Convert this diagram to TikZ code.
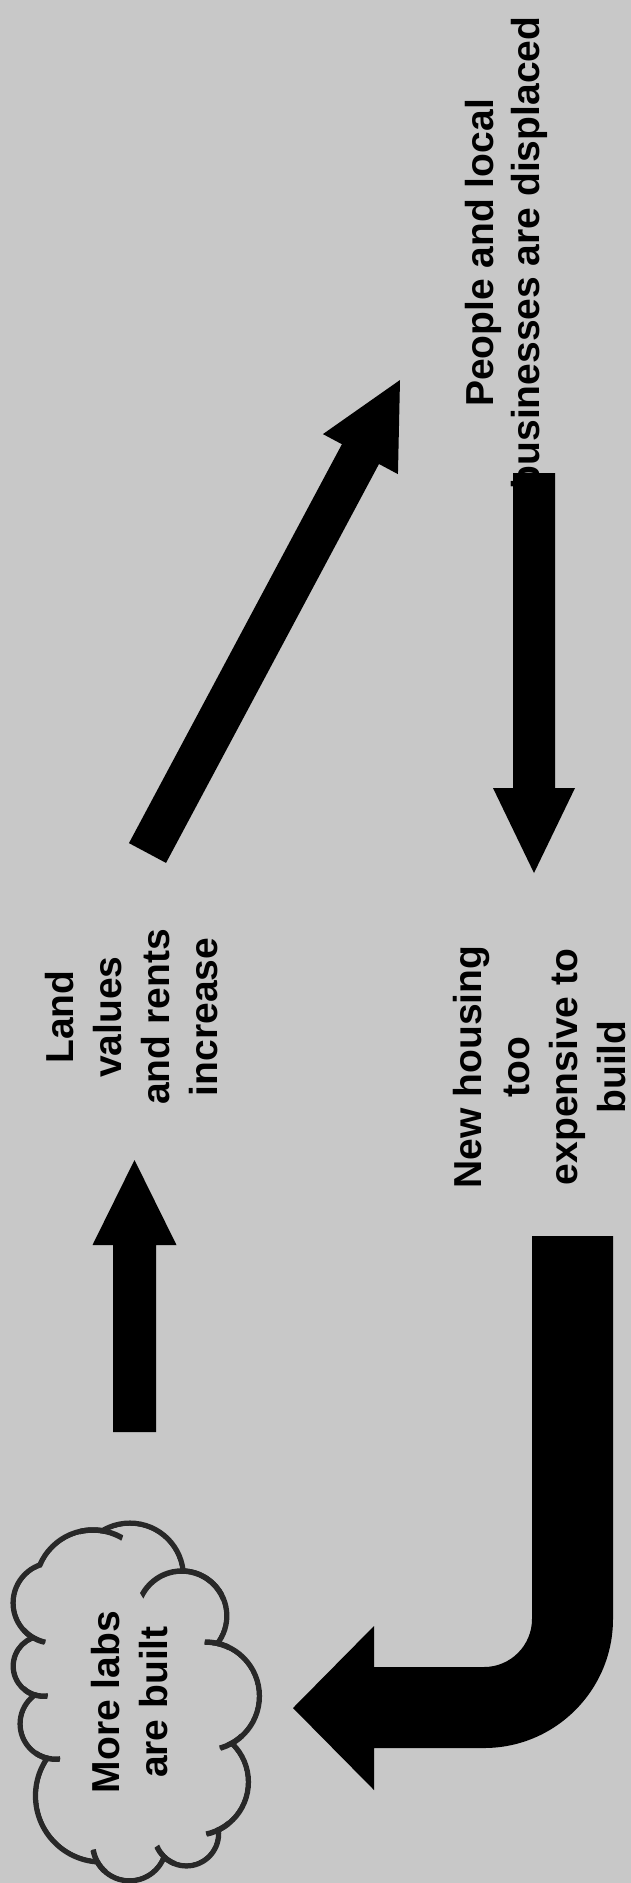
\documentclass[tikz,border=0pt]{standalone}
\usepackage{fontspec}
\setmainfont{Liberation Sans}
\usetikzlibrary{calc}
\definecolor{bg}{RGB}{200,200,200}
\definecolor{cloudcol}{RGB}{40,40,40}
\newcommand{\blockarrow}[5]{%
  \coordinate (ba-h) at ($(#2)!#5!(#1)$);
  \fill[arrowfill] ($(#1)!#3!90:(#2)$) -- ($(ba-h)!#3!90:(#2)$) -- ($(ba-h)!#4!90:(#2)$) -- (#2)
    -- ($(ba-h)!#4!-90:(#2)$) -- ($(ba-h)!#3!-90:(#2)$) -- ($(#1)!#3!-90:(#2)$) -- cycle;
}
\newcommand{\cloudhook}[4]{%
  \begin{scope}
    \clip (#1) circle[radius=#2pt];
    \draw[cloudline] (#3) circle[radius=#4pt];
  \end{scope}
}
\def\cloudlobes{A/93.0/1587.7/57.7, B/129.9/1576.6/53.4, C/181.8/1615.9/44.9,
  D/205.2/1696.1/54.1, E/195.0/1782.0/53.3, F/186.4/1833.7/32.1, G/129.5/1843.9/36.8,
  H/101.7/1795.8/66.1, I/55.6/1723.8/35.4, J/43.4/1666.1/30.1, K/53.4/1602.9/40.2}
\begin{document}
\begin{tikzpicture}[x=1pt,y=-1pt,
  lbl/.style={font=\bfseries\fontsize{39}{47}\selectfont, align=center, rotate=90, inner sep=0pt},
  arrowfill/.style={fill=black},
  cloudline/.style={draw=cloudcol, line width=5.5pt}]
\fill[bg] (0,0) rectangle (631,1883);
\useasboundingbox (0,0) rectangle (631,1883);

% ---------- cloud ----------
\foreach \n/\x/\y/\r in \cloudlobes { \coordinate (c\n) at (\x,\y); }
\coordinate (jKA) at (40,1565);     \coordinate (jAB) at (101.7,1530.7);
\coordinate (jBC) at (182.7,1571);  \coordinate (jCD) at (217.3,1643.3);
\coordinate (jDE) at (231.7,1743.3);\coordinate (jEF) at (218.3,1830);
\coordinate (jFG) at (164,1856.7);  \coordinate (jGH) at (97.3,1861.7);
\coordinate (jHI) at (47.3,1758.3); \coordinate (jIJ) at (35,1695);
\coordinate (jJK) at (33.3,1637.7); \coordinate (cmid) at (130,1705);
\foreach \n/\x/\y/\r in \cloudlobes { \draw[cloudline] (c\n) circle[radius=\r pt]; }
\foreach \n/\x/\y/\r in \cloudlobes { \fill[bg] (c\n) circle[radius={\r pt-2.75pt}]; }
\fill[bg] ($(cmid)!0.94!(jKA)$) -- ($(cmid)!0.94!(jAB)$) -- ($(cmid)!0.94!(jBC)$)
  -- ($(cmid)!0.94!(jCD)$) -- ($(cmid)!0.94!(jDE)$) -- ($(cmid)!0.94!(jEF)$)
  -- ($(cmid)!0.94!(jFG)$) -- ($(cmid)!0.94!(jGH)$) -- ($(cmid)!0.94!(jHI)$)
  -- ($(cmid)!0.94!(jIJ)$) -- ($(cmid)!0.94!(jJK)$) -- cycle;
\cloudhook{jAB}{22}{cA}{57.7}
\cloudhook{jBC}{48}{cC}{44.9}
\cloudhook{jCD}{13}{cD}{54.1}
\cloudhook{jDE}{13}{cD}{54.1}
\cloudhook{jEF}{13}{cE}{53.3}
\cloudhook{jFG}{13}{cF}{32.1}
\cloudhook{jGH}{13}{cG}{36.8}
\cloudhook{jHI}{13}{cI}{35.4}
\cloudhook{jIJ}{13}{cJ}{30.1}
\cloudhook{jJK}{13}{cK}{40.2}

% ---------- texts ----------
\node[lbl, font=\bfseries\fontsize{39}{46}\selectfont] (people) at (506,253) {People and local\\businesses are displaced};
\node[lbl, font=\bfseries\fontsize{39}{48}\selectfont] (land) at (132,1017) {Land\\values\\and rents\\increase};
\node[lbl, font=\bfseries\fontsize{39}{48}\selectfont] (housing) at (540,1067) {New housing\\too\\expensive to\\build};
\node[lbl, font=\bfseries\fontsize{39}{48}\selectfont] (labs) at (130,1702) {More labs\\are built};

% ---------- arrows ----------
\coordinate (upS) at (134.5,1432); \coordinate (upE) at (134.5,1160);
\coordinate (diS) at (147.5,853);  \coordinate (diE) at (400,380);
\coordinate (dnS) at (534,473);    \coordinate (dnE) at (534,873);
\coordinate (jS) at (572.5,1236);  \coordinate (jE) at (293,1708);

\blockarrow{upS}{upE}{21.5pt}{42pt}{85pt}
\blockarrow{diS}{diE}{21pt}{42.5pt}{84pt}
\blockarrow{dnS}{dnE}{21pt}{41pt}{85pt}

\fill[arrowfill] ($(jS)+(-40.5,0)$) -- ($(jS)+(40.5,0)$) -- (613,1619)
  .. controls (613,1690.2) and (555.2,1748) .. (484,1748) -- (374,1748) -- (374,1790) -- (jE)
  -- (374,1626) -- (374,1667) -- (484,1667)
  .. controls (510.5,1667) and (532,1645.5) .. (532,1619) -- cycle;
\end{tikzpicture}
\end{document}
